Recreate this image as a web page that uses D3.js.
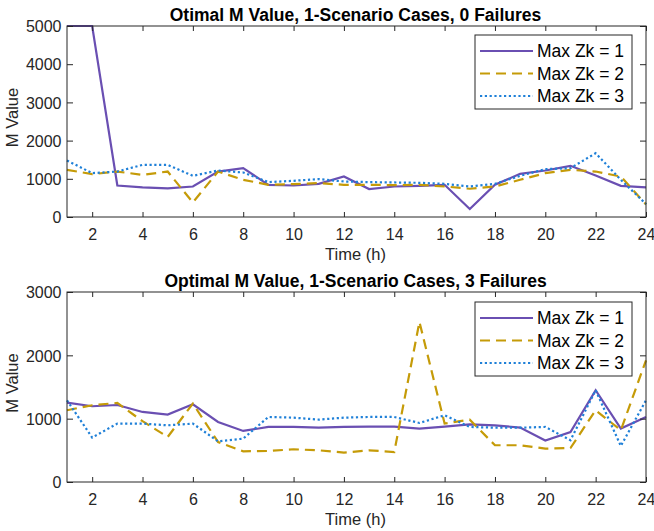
<!DOCTYPE html>
<html>
<head>
<meta charset="utf-8">
<script src="https://cdn.jsdelivr.net/npm/d3@7"></script>
<style>
  body { margin: 0; background: #fff; }
  svg { display: block; font-family: "Liberation Sans", Arial, sans-serif; }
</style>
</head>
<body>
<svg id="svg" width="654" height="531"></svg>
<script>
// hours on the x axis
var hours = d3.range(1, 25);
var xTicks = [2, 4, 6, 8, 10, 12, 14, 16, 18, 20, 22, 24];

// top plot: 0 failures
var top1 = [5000, 5000, 825, 773, 747, 799, 1190, 1279, 843, 825, 869, 1060,
            731, 799, 817, 843, 209, 843, 1130, 1217, 1340, 1086, 817, 773];
var top2 = [1235, 1122, 1190, 1104, 1190, 380, 1190, 974, 843, 860, 887, 843,
            843, 834, 843, 799, 739, 799, 974, 1148, 1235, 1190, 1060, 330];
var top3 = [1478, 1148, 1190, 1365, 1365, 1078, 1217, 1165, 913, 948, 992, 930,
            913, 904, 895, 869, 799, 869, 1078, 1252, 1279, 1670, 974, 340];
var topTicks = [0, 1000, 2000, 3000, 4000, 5000];

// bottom plot: 3 failures
var bot1 = [1254, 1196, 1216, 1106, 1064, 1227, 948, 806, 869, 869, 858, 869,
            875, 875, 843, 875, 911, 895, 859, 654, 790, 1449, 843, 1027];
var bot2 = [1133, 1212, 1248, 960, 711, 1238, 632, 485, 490, 517, 500, 464,
            500, 474, 2528, 922, 985, 580, 580, 527, 537, 1133, 817, 1922];
var bot3 = [1290, 701, 922, 922, 895, 922, 643, 685, 1027, 1016, 985, 1016,
            1027, 1027, 932, 1053, 869, 858, 858, 869, 659, 1449, 569, 1290];
var botTicks = [0, 1000, 2000, 3000];

var names = ["Max Zk = 1", "Max Zk = 2", "Max Zk = 3"];
var colors = ["#6a4fb2", "#c59b08", "#1f80d8"];
var dashes = [null, "10,6", "2.2,2.6"];

var svg = d3.select("#svg");
var left = 67, right = 646;
var x = d3.scaleLinear().domain([1, 24]).range([left, right]);

function drawPlot(title, series, yMax, yTicks, top, bottom, legendTop) {
  var y = d3.scaleLinear().domain([0, yMax]).range([bottom, top]);
  var g = svg.append("g");

  // lines
  var line = d3.line().x(function(d, i) { return x(hours[i]); }).y(function(d) { return y(d); });
  series.forEach(function(s, i) {
    g.append("path").datum(s)
      .attr("d", line)
      .attr("fill", "none")
      .attr("stroke", colors[i])
      .attr("stroke-width", 2.2)
      .attr("stroke-dasharray", dashes[i]);
  });

  // axes, ticks inward on all sides
  var ax = g.append("g").attr("transform", "translate(0," + bottom + ")")
    .call(d3.axisBottom(x).tickValues(xTicks).tickSizeInner(-5).tickSizeOuter(0).tickPadding(12));
  var axTop = g.append("g").attr("transform", "translate(0," + top + ")")
    .call(d3.axisTop(x).tickValues(xTicks).tickSizeInner(-5).tickSizeOuter(0).tickFormat(""));
  var ay = g.append("g").attr("transform", "translate(" + left + ",0)")
    .call(d3.axisLeft(y).tickValues(yTicks).tickFormat(d3.format("d"))
      .tickSizeInner(-6).tickSizeOuter(0).tickPadding(5.5));
  var ayR = g.append("g").attr("transform", "translate(" + right + ",0)")
    .call(d3.axisRight(y).tickValues(yTicks).tickSizeInner(-6).tickSizeOuter(0).tickFormat(""));
  [ax, axTop, ay, ayR].forEach(function(a) {
    a.select(".domain").remove();
    a.selectAll("line").attr("stroke", "#262626");
    a.selectAll("text").attr("fill", "#262626").style("font-size", "16px").attr("font-family", null);
  });
  ax.selectAll("text").attr("dy", "0.71em");
  ay.selectAll("text").attr("dy", "0.36em");

  g.append("rect").attr("x", left).attr("y", top)
    .attr("width", right - left).attr("height", bottom - top)
    .attr("fill", "none").attr("stroke", "#262626").attr("stroke-width", 1);

  // title and labels
  g.append("text").text(title)
    .attr("x", (left + right) / 2 - 1).attr("y", top - 5)
    .attr("text-anchor", "middle")
    .style("font-weight", "bold").style("font-size", "17.5px").attr("fill", "#000");
  g.append("text").text("Time (h)")
    .attr("x", (left + right) / 2 - 1).attr("y", bottom + 43)
    .attr("text-anchor", "middle").style("font-size", "16.5px").attr("fill", "#262626");
  g.append("text").text("M Value")
    .attr("transform", "translate(18," + ((top + bottom) / 2 - 4) + ") rotate(-90)")
    .attr("text-anchor", "middle").style("font-size", "16.5px").attr("fill", "#262626");

  // legend
  var lg = g.append("g").attr("transform", "translate(475," + legendTop + ")");
  lg.append("rect").attr("width", 157).attr("height", 74)
    .attr("fill", "#fff").attr("stroke", "#262626").attr("stroke-width", 1);
  names.forEach(function(n, i) {
    var yy = 16 + i * 22.5;
    lg.append("line").attr("x1", 5).attr("x2", 58).attr("y1", yy).attr("y2", yy)
      .attr("stroke", colors[i]).attr("stroke-width", 2.2)
      .attr("stroke-dasharray", dashes[i]);
    lg.append("text").text(n).attr("x", 62).attr("y", yy + 6)
      .style("font-size", "17.5px").attr("fill", "#000");
  });
}

drawPlot("Otimal M Value, 1-Scenario Cases, 0 Failures", [top1, top2, top3],
         5000, topTicks, 26, 217, 35);
drawPlot("Optimal M Value, 1-Scenario Cases, 3 Failures", [bot1, bot2, bot3],
         3000, botTicks, 292, 482, 302);
</script>
</body>
</html>
